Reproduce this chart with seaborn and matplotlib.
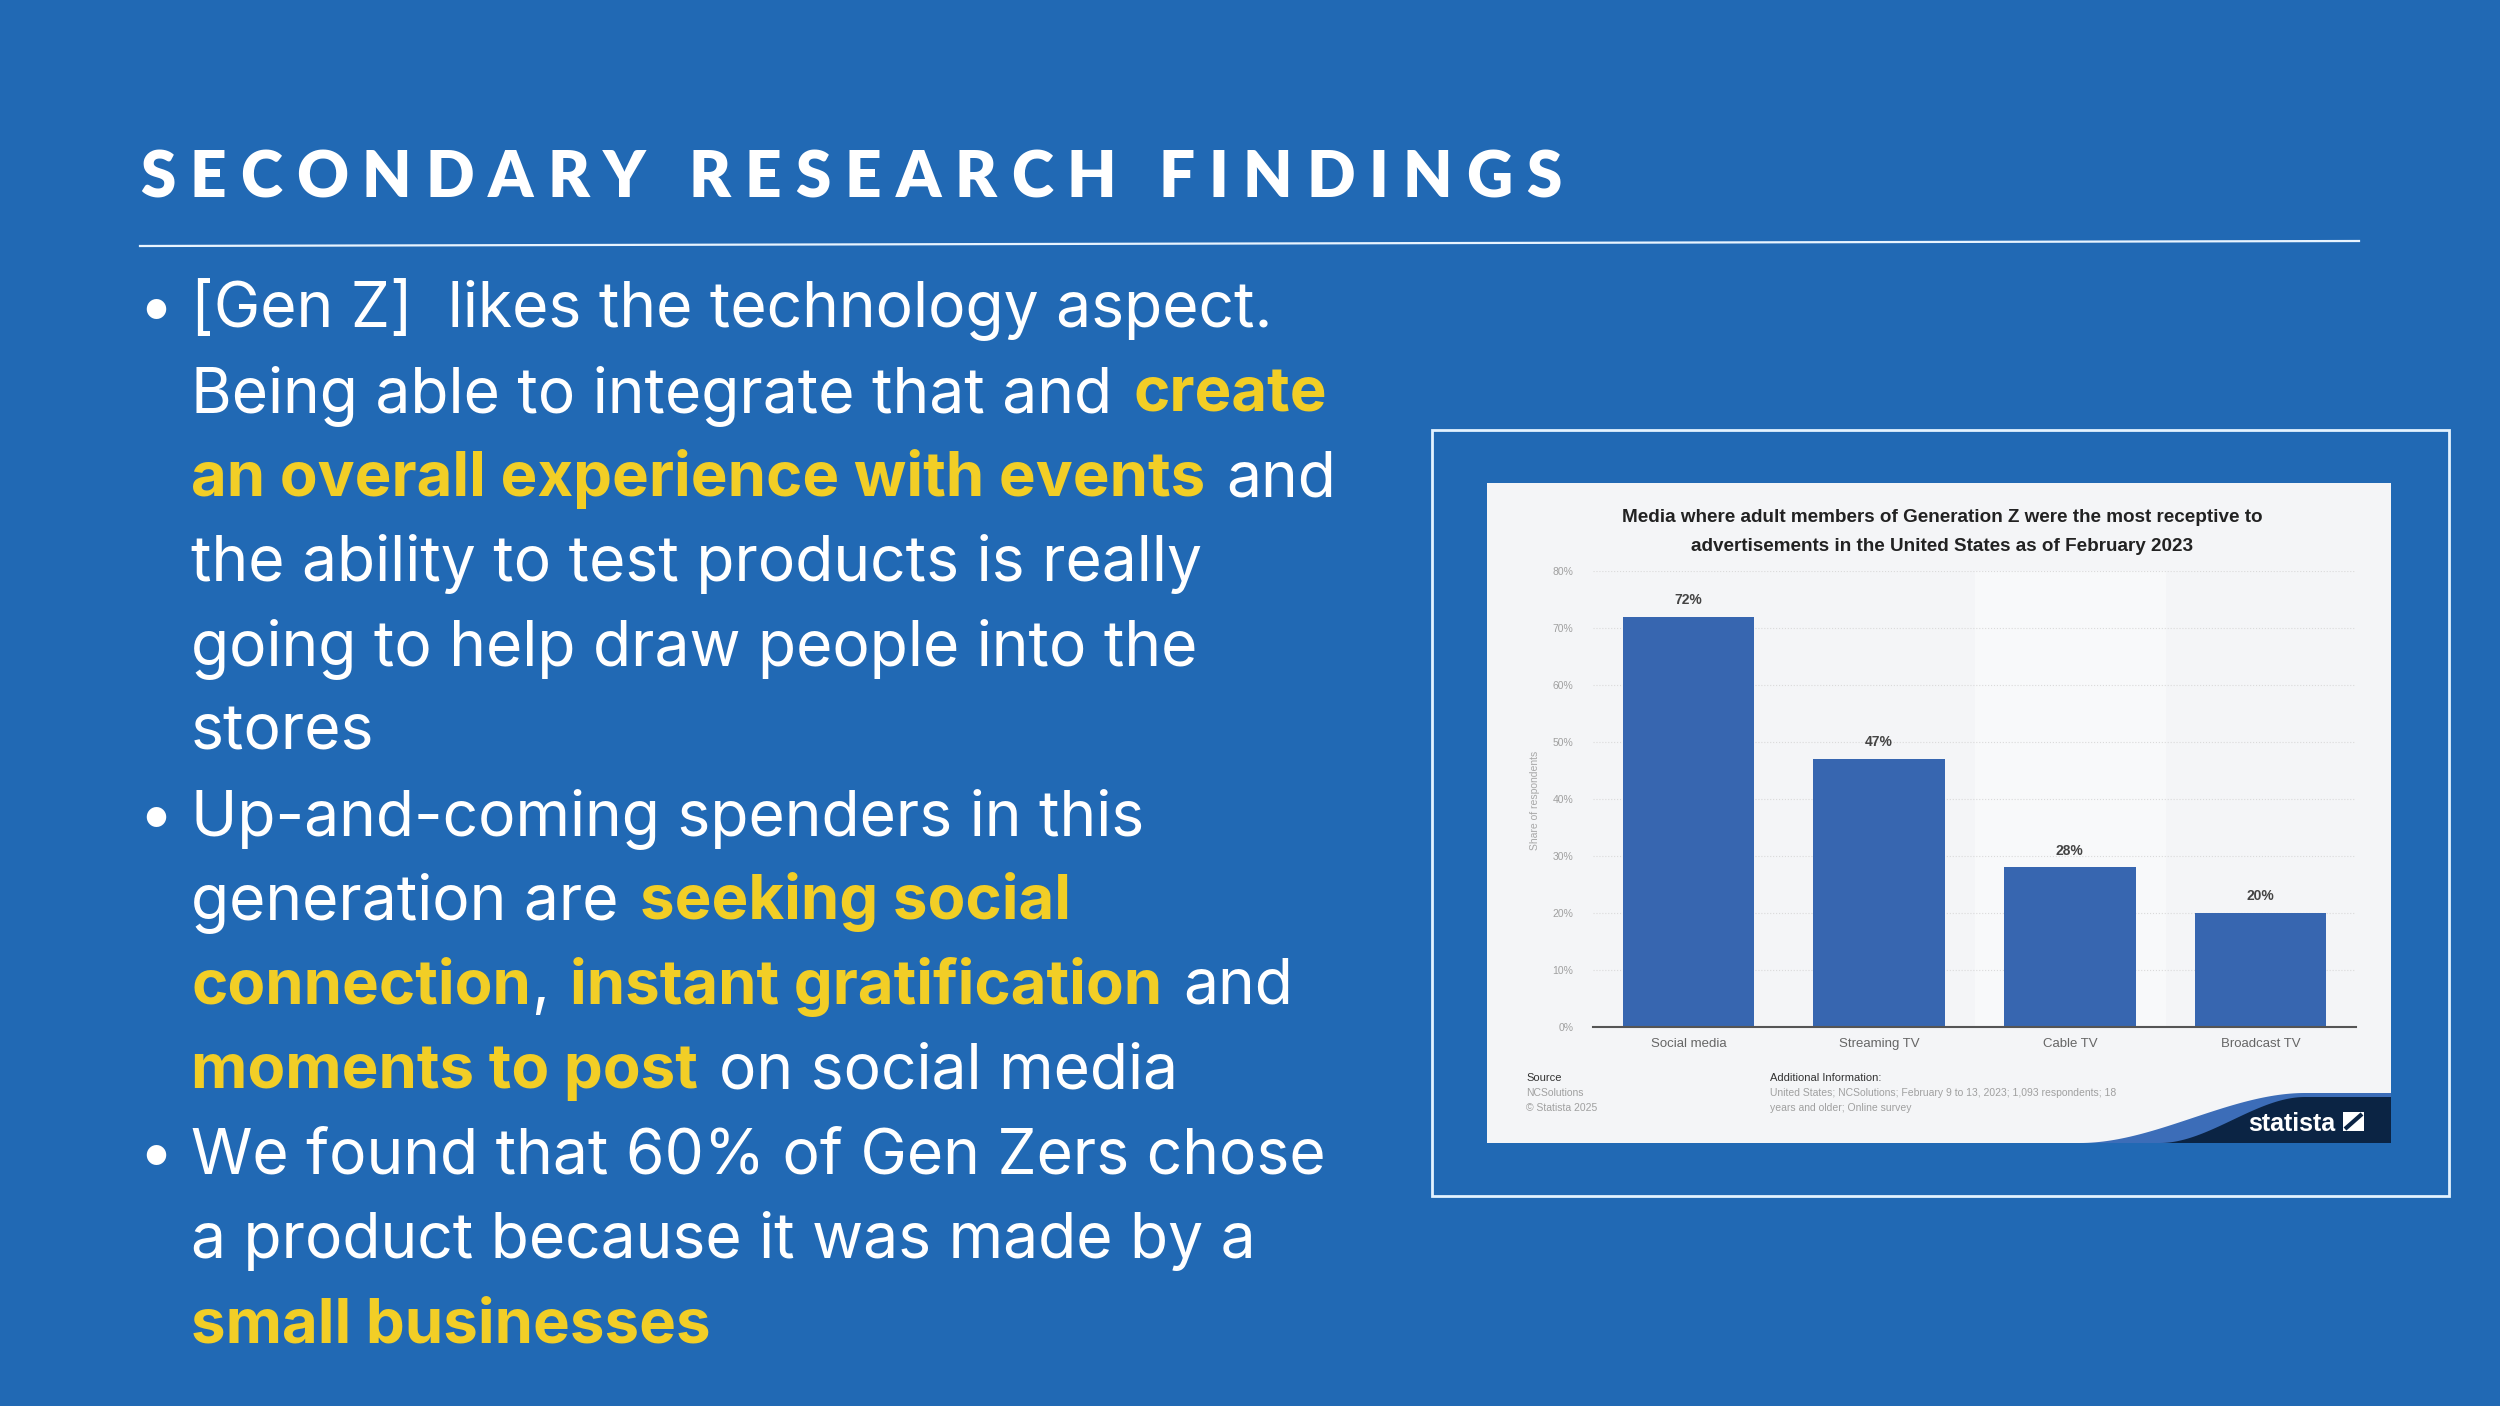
import matplotlib
matplotlib.use('Agg')
import numpy as np
import pandas as pd
import matplotlib.pyplot as plt
import seaborn as sns
from matplotlib.patches import Rectangle, Polygon

# chart data
media = ['Social media', 'Streaming TV', 'Cable TV', 'Broadcast TV']
share = [72, 47, 28, 20]
share_ticks = [0, 10, 20, 30, 40, 50, 60, 70, 80]

chart_title = ['Media where adult members of Generation Z were the most receptive to',
               'advertisements in the United States as of February 2023']
source_lines = ['NCSolutions', '\u00a9 Statista 2025']
info_lines = ['United States; NCSolutions; February 9 to 13, 2023; 1,093 respondents; 18',
              'years and older; Online survey']

heading = 'SECONDARY RESEARCH FINDINGS'

# slide text: (bullet?, [(text, style), ...]) - 'w' plain white, 'y' bold yellow
body_lines = [
    (True, [('[Gen Z]  likes the technology aspect.', 'w')]),
    (False, [('Being able to integrate that and ', 'w'), ('create', 'y')]),
    (False, [('an overall experience with events', 'y'), (' and', 'w')]),
    (False, [('the ability to test products is really', 'w')]),
    (False, [('going to help draw people into the', 'w')]),
    (False, [('stores', 'w')]),
    (True, [('Up-and-coming spenders in this', 'w')]),
    (False, [('generation are ', 'w'), ('seeking social', 'y')]),
    (False, [('connection', 'y'), (', ', 'w'), ('instant gratification', 'y'), (' and', 'w')]),
    (False, [('moments to post', 'y'), (' on social media', 'w')]),
    (True, [('We found that 60% of Gen Zers chose', 'w')]),
    (False, [('a product because it was made by a', 'w')]),
    (False, [('small businesses', 'y')]),
]

BG = '#2169B4'
YELLOW = '#F2CE26'
CARD = '#F4F5F7'
BAR = '#3766B0'
W, H = 2500, 1406

fig = plt.figure(figsize=(W / 100, H / 100), dpi=100, facecolor=BG)
bg = fig.add_axes([0, 0, 1, 1])
bg.set_xlim(0, W)
bg.set_ylim(H, 0)
bg.axis('off')
renderer = fig.canvas.get_renderer()


def text_width(s, **kw):
    t = bg.text(0, 0, s, **kw)
    w = t.get_window_extent(renderer).width
    t.remove()
    return w


def advance(s, **kw):
    # advance width incl. side bearings and spaces
    return text_width('H' + s + 'H', **kw) - text_width('HH', **kw)


# heading with wide letter spacing
head_kw = dict(family=['Lato', 'DejaVu Sans'], fontweight='heavy', fontsize=46, color='white')
advs = [advance(c, **head_kw) for c in heading]
tracking = (1422 - sum(advs[:-1]) - text_width(heading[-1], **head_kw)) / (len(heading) - 1)
x = 140
for c, a in zip(heading, advs):
    bg.text(x, 197, c, ha='left', va='baseline', **head_kw)
    x += a + tracking

bg.plot([140, 2359], [246, 241], color='#E8F4FF', lw=1.6)

# body text
fam = ['Inter', 'DejaVu Sans']
base = 40
ref_w = text_width('We found that 60% of Gen Zers chose', family=fam, fontsize=base)
body_size = base * 1136 / ref_w
styles = {'w': dict(family=fam, fontsize=body_size, color='white', fontweight='normal'),
          'y': dict(family=fam, fontsize=body_size * 0.99, color=YELLOW, fontweight='bold')}

for i, (bullet, runs) in enumerate(body_lines):
    y = 327 + i * 84.6
    if bullet:
        bg.text(156, y, '\u2022', ha='center', va='baseline', **styles['w'])
    x = 191
    for txt, st in runs:
        kw = styles[st]
        sw = advance(' ', **kw) * 1.2
        core = txt.strip(' ')
        x += (len(txt) - len(txt.lstrip(' '))) * sw
        t = bg.text(x, y, core, ha='left', va='baseline', **kw)
        x += advance(core, **kw)
        x += (len(txt) - len(txt.rstrip(' '))) * sw

# frame and card
bg.add_patch(Rectangle((1432, 430), 1017, 766, fill=False, ec='#E3F2FF', lw=2))
bg.add_patch(Rectangle((1487, 483), 904, 660, fc=CARD, ec='none'))

# statista corner logo
xs = np.linspace(0, 1, 60)
smooth = xs * xs * (3 - 2 * xs)
bot, right = 1143, 2391
sx = 2080 + 225 * xs
sy = bot - 50 * smooth
bg.add_patch(Polygon(np.column_stack([np.r_[sx, right, right], np.r_[sy, 1093, bot]]),
                     fc='#3C6DB8', ec='none'))
nx = 2160 + 145 * xs
ny = bot - 46 * smooth
bg.add_patch(Polygon(np.column_stack([np.r_[nx, right, right], np.r_[ny, 1097, bot]]),
                     fc='#0B2444', ec='none'))
bg.text(2292, 1131, 'statista', ha='center', va='baseline', color='white',
        family=['Liberation Sans Narrow', 'Liberation Sans'], fontweight='bold', fontsize=18)
bg.add_patch(Rectangle((2343, 1112), 21, 19, fc='white', ec='none'))
bg.plot([2345, 2362], [1129, 1114], color='#0B2444', lw=3, solid_capstyle='butt')

# card texts
card_font = ['Liberation Sans', 'DejaVu Sans']
for j, line in enumerate(chart_title):
    bg.text(1942, 522 + j * 29, line, ha='center', va='baseline', family=card_font,
            fontweight='bold', fontsize=13.6, color='#222222')
bg.text(1535, 800, 'Share of respondents', rotation=90, ha='center', va='center',
        family=card_font, fontsize=7.5, color='#A8A8A8')
bg.text(1526, 1081, 'Source', ha='left', va='baseline', family=card_font, fontsize=8, color='#333333')
for j, line in enumerate(source_lines):
    bg.text(1526, 1096 + j * 15, line, ha='left', va='baseline', family=card_font,
            fontsize=7.5, color='#A0A0A0')
bg.text(1770, 1081, 'Additional Information:', ha='left', va='baseline', family=card_font,
        fontsize=8, color='#333333')
for j, line in enumerate(info_lines):
    bg.text(1770, 1096 + j * 15, line, ha='left', va='baseline', family=card_font,
            fontsize=7.5, color='#A0A0A0')

# the bar chart itself
df = pd.DataFrame({'media': media, 'share': share})
ax = fig.add_axes([1593 / W, 1 - 1027 / H, 763 / W, 456 / H])
ax.set_facecolor('none')
ax.axvspan(1.5, 2.5, color='#F8F9FA', zorder=0)
sns.barplot(data=df, x='media', y='share', color=BAR, saturation=1, width=0.69, ax=ax, zorder=3)
ax.set_ylim(0, 80)
ax.set_xlim(-0.5, 3.5)
ax.set_yticks(share_ticks)
ax.set_yticklabels([f'{v}%' for v in share_ticks], family=card_font, fontsize=7.5, color='#A0A0A0')
ax.set_xticks(range(len(media)))
ax.set_xticklabels(media, family=card_font, fontsize=9.5, color='#666666')
ax.tick_params(axis='y', length=0, pad=14)
ax.tick_params(axis='x', length=0, pad=8)
ax.set_xlabel('')
ax.set_ylabel('')
ax.grid(axis='y', color='#DADADA', ls=':', lw=0.8, zorder=1)
ax.set_axisbelow(True)
for side in ['top', 'right', 'left']:
    ax.spines[side].set_visible(False)
ax.spines['bottom'].set_color('#555555')
ax.spines['bottom'].set_linewidth(1.5)
ax.spines['bottom'].set_zorder(4)
ax.bar_label(ax.containers[0], labels=[f'{v}%' for v in share], padding=7,
             family=card_font, fontweight='bold', fontsize=10, color='#444444')

fig.savefig('out.png', dpi=100, facecolor=BG)
